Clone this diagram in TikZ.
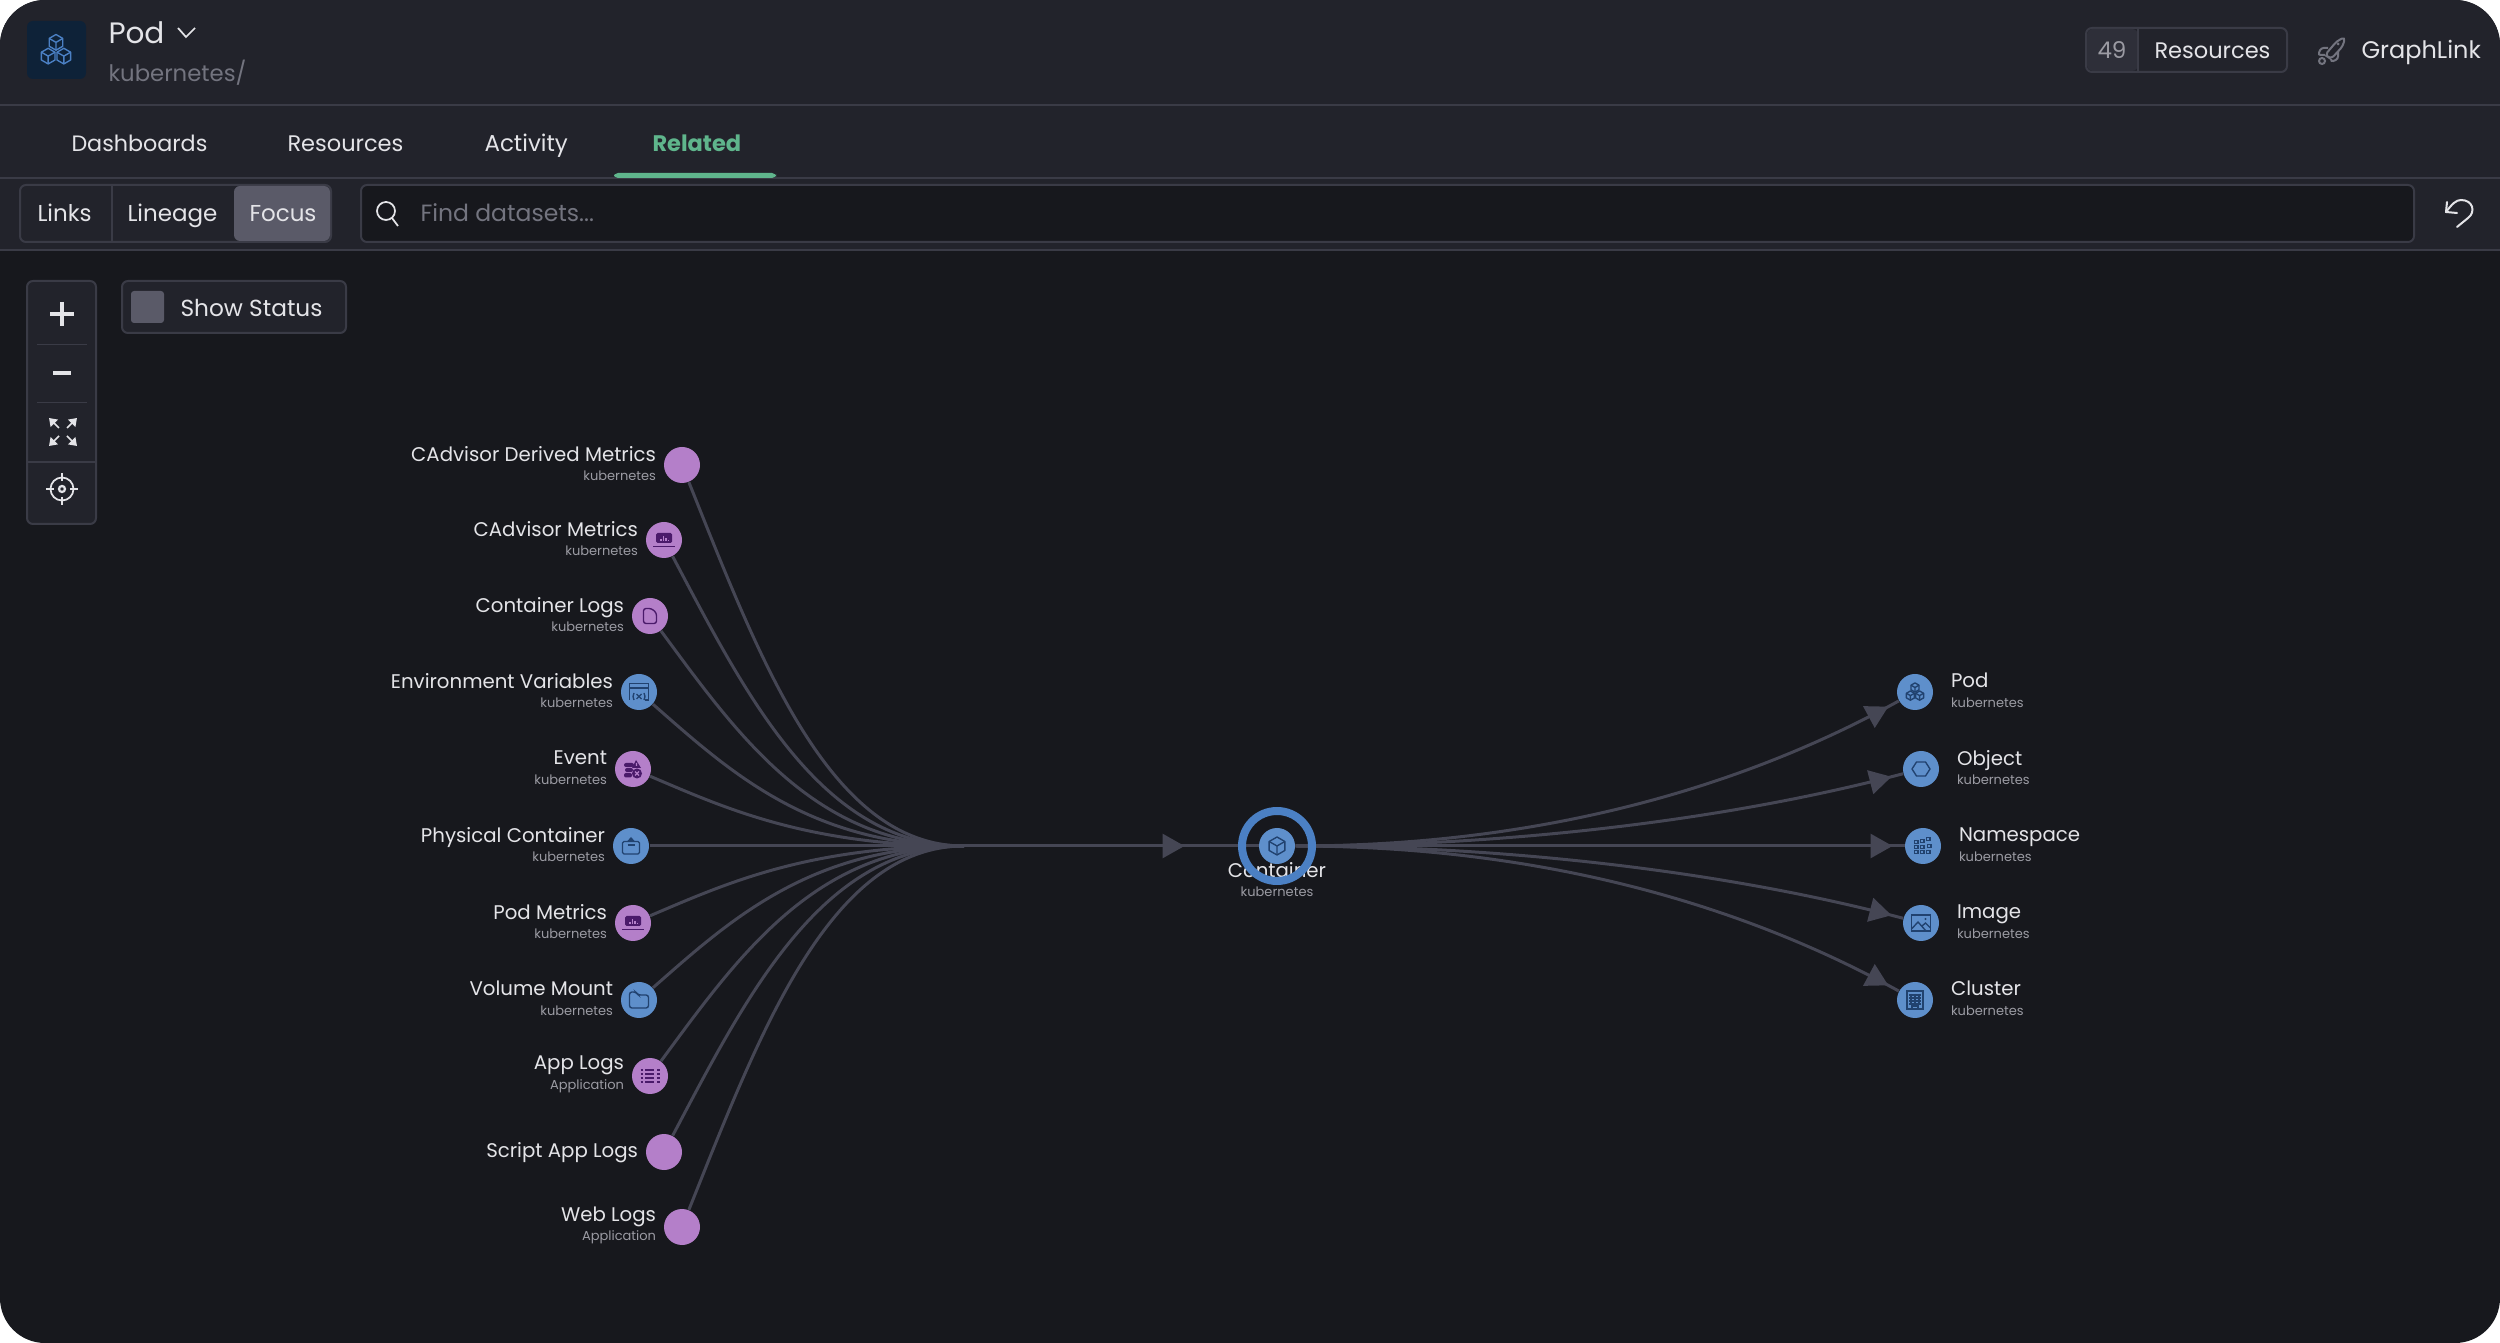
\documentclass[tikz,border=0pt]{standalone}
\usepackage{fontspec}
\usepackage{tikz}
\usetikzlibrary{arrows.meta, positioning, decorations.markings}
\setmainfont{Poppins}

\definecolor{panelgrey}{HTML}{22232B}
\definecolor{canvasgrey}{HTML}{17181D}
\definecolor{rulegrey}{HTML}{3A3B46}
\definecolor{edgegrey}{HTML}{454654}
\definecolor{activegrey}{HTML}{5A5A68}
\definecolor{nametext}{HTML}{E4E4E8}
\definecolor{subtext}{HTML}{9B9BA3}
\definecolor{dimtext}{HTML}{73747F}
\definecolor{relatedgreen}{HTML}{5FB58C}
\definecolor{purplenode}{HTML}{B47FC9}
\definecolor{bluenode}{HTML}{5E8FCB}
\definecolor{ringblue}{HTML}{4B80C4}
\definecolor{purpleglyph}{HTML}{4A1A6A}
\definecolor{blueglyph}{HTML}{21426F}
\definecolor{badgenavy}{HTML}{0E2238}

\newcommand{\subtextfont}{\fontsize{5.2}{7.9}\selectfont\color{subtext}}

\tikzset{
	cubeline/.pic={
		\draw [line join=round] (0,-#1) -- (.87*#1,-.5*#1) -- (.87*#1,.5*#1) -- (0,#1) -- (-.87*#1,.5*#1) -- (-.87*#1,-.5*#1) -- cycle;
		\draw (0,0) -- (0,#1) (0,0) -- (.87*#1,-.5*#1) (0,0) -- (-.87*#1,-.5*#1);
	},
	cubespic/.pic={
		\pic at (0,-4.5) {cubeline=4.6};
		\pic at (-4.6,3.6) {cubeline=4.6};
		\pic at (4.6,3.6) {cubeline=4.6};
	},
	laptoppic/.pic={
		\fill [rounded corners=.6pt] (-8,-7) rectangle (8,3);
		\draw (-11,6.5) -- (11,6.5);
		\draw [purplenode] (-3,1) -- (-3,-1) (-.5,1) -- (-.5,-3.5) (2,1) -- (2,-2) (4.5,1) -- (4.5,0);
	},
	docpic/.pic={
		\draw [rounded corners=1pt] (-6.5,-7.5) -- (1.5,-7.5) -- (6.5,-3) -- (6.5,7.5) -- (-6.5,7.5) -- cycle;
	},
	windowpic/.pic={
		\draw (-9.5,8) -- (-9.5,-8.5) -- (9.5,-8.5) -- (9.5,8) -- (6,8) (-9.5,-4) -- (9.5,-4);
		\draw (-5,1) -- (-6,4.5) -- (-5,8) (5,1) -- (6,4.5) -- (5,8) (-2.5,2) -- (2.5,7) (2.5,2) -- (-2.5,7);
	},
	eventpic/.pic={
		\fill [rounded corners=.8pt] (-9,-6) rectangle (1,-2) (-8,-1) rectangle (0,3) (-9,4) rectangle (-1,8.5);
		\fill (3,-9) -- (8,-1) -- (-1,-1) -- cycle;
		\fill (4,4.5) circle (5);
		\draw [purplenode] (2,2.5) -- (6,6.5) (6,2.5) -- (2,6.5) (3.5,-6) -- (3.5,-3);
	},
	cratepic/.pic={
		\draw [rounded corners=.6pt] (-8.5,-4.5) rectangle (8.5,8);
		\draw (-3.5,-1) -- (3.5,-1);
		\fill (0,-9) -- (4,-4.5) -- (-4,-4.5) -- cycle;
	},
	folderpic/.pic={
		\draw [rounded corners=1pt] (-9.5,8) -- (-9.5,-8) -- (-3,-8) -- (-1,-5) -- (9.5,-5) -- (9.5,8) -- cycle;
	},
	listpic/.pic={
		\foreach \rowy in {-6,-2,2,6} {
			\draw (-9.5,\rowy) -- (-7.5,\rowy) (-5,\rowy) -- (4,\rowy) (7,\rowy) -- (9.5,\rowy);
		}
	},
	hexpic/.pic={
		\draw [line join=round] (-9,0) -- (-4.5,-7) -- (4.5,-7) -- (9,0) -- (4.5,7) -- (-4.5,7) -- cycle;
	},
	gridpic/.pic={
		\foreach \cellx/\celly in {-7/-4,-7/1,-7/6,-1/1,-1/6,5/6,-1/-5,5/-7,6/0} {
			\draw (\cellx-1.8,\celly-1.8) rectangle (\cellx+1.8,\celly+1.8);
		}
	},
	imagepic/.pic={
		\draw (-9.5,-8) rectangle (9.5,8);
		\draw (-9.5,6) -- (-3,-1) -- (5,8) (1,3) -- (4.5,0) -- (9.5,5);
		\fill (4.5,-4) circle (1.2);
	},
	buildingpic/.pic={
		\draw (-8,-9) rectangle (8,9);
		\foreach \gridx in {-4,0,4} {\draw (\gridx,-6) -- (\gridx,4);}
		\foreach \gridy in {-5,-2,1,4} {\draw (-6,\gridy) -- (6,\gridy);}
		\draw (-3,9) -- (-3,6) -- (3,6) -- (3,9);
	},
}

\begin{document}
\begin{tikzpicture}[x=.4pt, y=-.4pt, node distance=2.8pt,
	every pic/.style={line width=.55pt, transform shape},
	uitext/.style={inner sep=0pt, anchor=base west, text=nametext, font=\fontsize{9.2}{10}\selectfont},
	dimlabel/.style={uitext, text=dimtext},
	datanode/.style={circle, inner sep=0pt, minimum size=14.4pt},
	purpledata/.style={datanode, fill=purplenode},
	bluedata/.style={datanode, fill=bluenode},
	namelabel/.style={inner sep=0pt, yshift=.6pt, text=nametext, align=right, font=\fontsize{7.9}{7.9}\selectfont},
	rightlabel/.style={namelabel, align=left},
	uibox/.style={draw=rulegrey, line width=.8pt, rounded corners=2.4pt},
	rulebar/.style={rulegrey, line width=1pt},
	edge/.style={edgegrey, line width=1.2pt},
	tipmark/.style={postaction={decorate}, decoration={markings, mark=at position #1 with {\arrow[edgegrey]{Triangle[length=8.8pt, width=9.6pt]}}}},
	]
	\useasboundingbox (0,0) rectangle (2500,1343);
	\fill [white] (0,0) rectangle (2500,1343);
	\fill [canvasgrey, rounded corners=18pt] (0,0) rectangle (2500,1343);
	\begin{scope}
		\clip (0,0) rectangle (2500,250);
		\fill [panelgrey, rounded corners=18pt] (0,0) rectangle (2500,1343);
	\end{scope}
	\draw [rulebar] (0,105) -- (2500,105);
	\draw [rulebar] (0,178) -- (2500,178);
	\draw [rulebar] (0,250) -- (2500,250);

	% header
	\fill [badgenavy, rounded corners=2.4pt] (27,21) rectangle (86,79);
	\pic [color=ringblue, scale=1.7, line width=.6pt] at (56,50) {cubespic};
	\node (podtitle) [uitext, font=\fontsize{11.8}{13}\selectfont] at (108,44) {Pod};
	\draw [nametext, line width=.7pt] (178,28) -- (186,37) -- (195,28);
	\node (podpath) [dimlabel, font=\fontsize{9.1}{10}\selectfont] at (108,82) {kubernetes/};
	\draw [uibox, fill=panelgrey] (2086,28) rectangle (2287,72);
	\fill [rulegrey!50!panelgrey, rounded corners=2.4pt] (2087,29) rectangle (2138,71);
	\draw [rulegrey, line width=.8pt] (2138,28) -- (2138,72);
	\node (resourcecount) [uitext, text=subtext] at (2097,59) {49};
	\node (resourcelabel) [uitext, font=\fontsize{9}{10}\selectfont] at (2154,59) {Resources};
	\draw [dimtext, line width=.8pt, rounded corners=1.5pt] (2325,55) -- (2337,41) -- (2345,37) -- (2343,46) -- (2331,59) -- cycle;
	\draw [dimtext, line width=.8pt, rounded corners=1pt] (2328,48) -- (2321,48) -- (2318,55) -- (2325,55) (2338,52) -- (2338,59) -- (2331,62) -- (2331,59);
	\draw [dimtext, line width=.8pt] (2322,61) circle (3);
	\fill [dimtext] (2338,44) circle (1.5);
	\node (graphlink) [uitext, font=\fontsize{9.6}{10}\selectfont] at (2361,59) {GraphLink};

	% tabs
	\node (dashboardstab) [uitext, font=\fontsize{8.9}{10}\selectfont] at (71,151.5) {Dashboards};
	\node (resourcestab) [uitext, font=\fontsize{9}{10}\selectfont] at (287,151.5) {Resources};
	\node (activitytab) [uitext] at (484,151.5) {Activity};
	\node (relatedtab) [uitext, text=relatedgreen, font=\fontsize{9}{10}\selectfont] at (652,151.5) {\textbf{Related}};
	\fill [relatedgreen, rounded corners=1.6pt] (614,178) -- (614,173) -- (776,173) -- (776,178) -- cycle;

	% toolbar
	\draw [uibox] (20,185) rectangle (331,242);
	\draw [rulegrey, line width=.6pt] (112,185) -- (112,242);
	\fill [activegrey, rounded corners=2.4pt] (234,186) rectangle (330,241);
	\node (linksmode) [uitext] at (37,222) {Links};
	\node (lineagemode) [uitext] at (127,222) {Lineage};
	\node (focusmode) [uitext] at (249,222) {Focus};
	\draw [uibox, fill=canvasgrey] (361,185) rectangle (2414,242);
	\draw [nametext, line width=.7pt] (386,211) circle (9);
	\draw [nametext, line width=.7pt] (392,218) -- (398,226);
	\node (findbox) [dimlabel, font=\fontsize{9.4}{10}\selectfont] at (420,222) {Find datasets...};
	\draw [nametext, line width=.8pt, line cap=round, line join=round] (2447,202) -- (2446,212) -- (2457,213);
	\draw [nametext, line width=.8pt, line cap=round] (2446,212) .. controls (2452,204) and (2456,200) .. (2461,200) .. controls (2473,200) and (2476,212) .. (2468,218) -- (2457,227);

	% view controls
	\draw [uibox, fill=panelgrey] (122,281) rectangle (346,333);
	\fill [activegrey, rounded corners=1.2pt] (131,291) rectangle (164,323);
	\node (showstatus) [uitext, font=\fontsize{9.3}{10}\selectfont] at (180,316.5) {Show Status};
	\draw [uibox, fill=panelgrey] (27,281) rectangle (96,524);
	\draw [rulegrey, line width=.4pt] (37,345) -- (87,345);
	\draw [rulegrey, line width=.4pt] (37,403) -- (87,403);
	\draw [rulegrey, line width=.8pt] (27,462) -- (96,462);
	\draw [nametext, line width=1.7pt] (50,314) -- (74,314);
	\draw [nametext, line width=1.7pt] (62,302) -- (62,326);
	\draw [nametext, line width=1.5pt] (53,373) -- (71,373);
	\draw [nametext, line width=.7pt, -{Triangle[length=3pt, width=4pt]}] (59,428) -- (49,418);
	\draw [nametext, line width=.7pt, -{Triangle[length=3pt, width=4pt]}] (67,428) -- (77,418);
	\draw [nametext, line width=.7pt, -{Triangle[length=3pt, width=4pt]}] (59,436) -- (49,446);
	\draw [nametext, line width=.7pt, -{Triangle[length=3pt, width=4pt]}] (67,436) -- (77,446);
	\draw [nametext, line width=.7pt] (62,489) circle (11.5);
	\draw [nametext, line width=.9pt] (62,489) circle (3);
	\draw [nametext, line width=.7pt] (62,473) -- (62,481) (62,497) -- (62,505) (46,489) -- (54,489) (70,489) -- (78,489);

	% sources
	\node (cadvisorderived) [purpledata] at (682,465) {};
	\node (cadvisormetrics) [purpledata] at (664,540) {};
	\node (containerlogs) [purpledata] at (650,616) {};
	\node (envvariables) [bluedata] at (639,692) {};
	\node (event) [purpledata] at (633,769) {};
	\node (physical) [bluedata] at (631,846) {};
	\node (podmetrics) [purpledata] at (633,923) {};
	\node (volumemount) [bluedata] at (639,1000) {};
	\node (applogs) [purpledata] at (650,1076) {};
	\node (scriptlogs) [purpledata] at (664,1152) {};
	\node (weblogs) [purpledata] at (682,1227) {};

	\node (cadvisorderivedlabel) [namelabel, left=of cadvisorderived] {CAdvisor Derived Metrics\\{\subtextfont kubernetes}};
	\node (cadvisormetricslabel) [namelabel, left=of cadvisormetrics] {CAdvisor Metrics\\{\subtextfont kubernetes}};
	\node (containerlogslabel) [namelabel, left=of containerlogs] {Container Logs\\{\subtextfont kubernetes}};
	\node (envvariableslabel) [namelabel, left=of envvariables] {Environment Variables\\{\subtextfont kubernetes}};
	\node (eventlabel) [namelabel, left=of event] {Event\\{\subtextfont kubernetes}};
	\node (physicallabel) [namelabel, left=of physical] {Physical Container\\{\subtextfont kubernetes}};
	\node (podmetricslabel) [namelabel, left=of podmetrics] {Pod Metrics\\{\subtextfont kubernetes}};
	\node (volumemountlabel) [namelabel, left=of volumemount] {Volume Mount\\{\subtextfont kubernetes}};
	\node (applogslabel) [namelabel, left=of applogs] {App Logs\\{\subtextfont Application}};
	\node (scriptlogslabel) [namelabel, left=of scriptlogs, yshift=-1pt] {Script App Logs};
	\node (weblogslabel) [namelabel, left=of weblogs] {Web Logs\\{\subtextfont Application}};

	\pic [color=purpleglyph] at (cadvisormetrics) {laptoppic};
	\pic [color=purpleglyph] at (containerlogs) {docpic};
	\pic [color=blueglyph] at (envvariables) {windowpic};
	\pic [color=purpleglyph] at (event) {eventpic};
	\pic [color=blueglyph] at (physical) {cratepic};
	\pic [color=purpleglyph] at (podmetrics) {laptoppic};
	\pic [color=blueglyph] at (volumemount) {folderpic};
	\pic [color=purpleglyph] at (applogs) {listpic};

	% focus and targets
	\node (container) [bluedata] at (1277,846) {};
	\node (containerlabel) [namelabel, align=center] at (1277,881) {Container\\{\subtextfont kubernetes}};
	\pic [color=blueglyph] at (container) {cubeline=9};
	\node (pod) [bluedata] at (1915,692) {};
	\node (object) [bluedata] at (1921,769) {};
	\node (namespace) [bluedata] at (1923,846) {};
	\node (image) [bluedata] at (1921,923) {};
	\node (cluster) [bluedata] at (1915,1000) {};

	\node (podlabel) [rightlabel, right=6.8pt of pod] {Pod\\{\subtextfont kubernetes}};
	\node (objectlabel) [rightlabel, right=6.8pt of object] {Object\\{\subtextfont kubernetes}};
	\node (namespacelabel) [rightlabel, right=6.8pt of namespace] {Namespace\\{\subtextfont kubernetes}};
	\node (imagelabel) [rightlabel, right=6.8pt of image] {Image\\{\subtextfont kubernetes}};
	\node (clusterlabel) [rightlabel, right=6.8pt of cluster] {Cluster\\{\subtextfont kubernetes}};

	\pic [color=blueglyph] at (pod) {cubespic};
	\pic [color=blueglyph] at (object) {hexpic};
	\pic [color=blueglyph] at (namespace) {gridpic};
	\pic [color=blueglyph] at (image) {imagepic};
	\pic [color=blueglyph] at (cluster) {buildingpic};

	% edges
	\coordinate (fan) at (964,846);
	\draw [edge] (cadvisorderived) .. controls (760,660) and (830,846) .. (fan);
	\draw [edge] (cadvisormetrics) .. controls (747,697) and (822,846) .. (fan);
	\draw [edge] (containerlogs) .. controls (737,734) and (815,846) .. (fan);
	\draw [edge] (envvariables) .. controls (729,771) and (810,846) .. (fan);
	\draw [edge] (event) .. controls (725,808) and (807,846) .. (fan);
	\draw [edge] (physical) -- (fan);
	\draw [edge] (podmetrics) .. controls (725,884) and (807,846) .. (fan);
	\draw [edge] (volumemount) .. controls (729,921) and (810,846) .. (fan);
	\draw [edge] (applogs) .. controls (737,958) and (815,846) .. (fan);
	\draw [edge] (scriptlogs) .. controls (747,995) and (822,846) .. (fan);
	\draw [edge] (weblogs) .. controls (760,1032) and (830,846) .. (fan);
	\draw [edge, tipmark=-29.6pt] (fan) -- (container);

	\draw [edge, tipmark=-4.8pt] (container) .. controls (1500,846) and (1710,805) .. (pod);
	\draw [edge, tipmark=-4.8pt] (container) .. controls (1500,846) and (1720,822) .. (object);
	\draw [edge, tipmark=-4.8pt] (container) -- (namespace);
	\draw [edge, tipmark=-4.8pt] (container) .. controls (1500,846) and (1720,870) .. (image);
	\draw [edge, tipmark=-4.8pt] (container) .. controls (1500,846) and (1710,887) .. (cluster);

	\node (containerring) [circle, draw=ringblue, line width=3.2pt, inner sep=0pt, minimum size=28pt] at (container) {};
\end{tikzpicture}
\end{document}
